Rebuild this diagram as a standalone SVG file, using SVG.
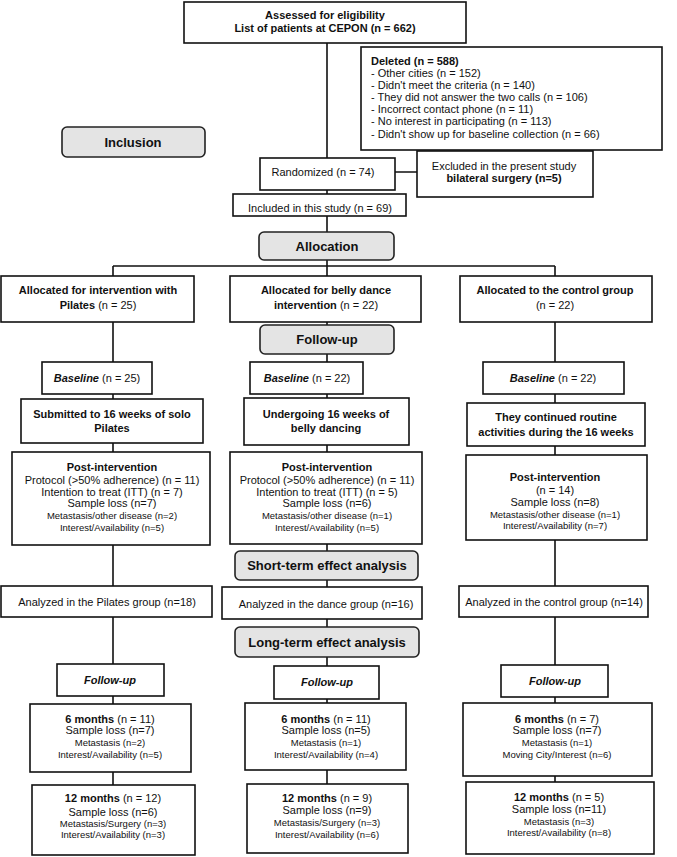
<svg xmlns="http://www.w3.org/2000/svg" width="677" height="857" viewBox="0 0 677 857">
<style>
.box{fill:#fff;stroke:#111;stroke-width:1.6}
.sec{fill:#e4e4e4;stroke:#222;stroke-width:1.6}
.t{font-family:"Liberation Sans Narrow","Liberation Sans",Arial,sans-serif;font-size:11px;fill:#111;text-anchor:middle}
.b{font-weight:bold}
.i{font-style:italic;font-weight:bold}
.s{font-size:9.5px}
.l{text-anchor:start}
.h{font-family:"Liberation Sans Narrow","Liberation Sans",Arial,sans-serif;font-size:13px;font-weight:bold;fill:#111;text-anchor:middle}
.c{fill:none;stroke:#111;stroke-width:1.6}
</style>
<rect width="677" height="857" fill="#fff"/>
<g id="connectors" class="c">
<path d="M327 43V158M395 172H417M327 190V194M327 216V232M327 260V276M113 266H555M113 266V276M555 266V276"/>
<path d="M113 322V362M113 394V399M113 443V452M113 545V586M113 617V664M113 696V704M113 772V785"/>
<path d="M327 322V325M327 354V362M327 394V398M327 445V452M327 544V551M327 580V587M327 619V627M327 657V666M327 699V703M327 770V784"/>
<path d="M555 322V362M555 394V403M555 446V455M555 540V586M555 617V665M555 697V703M555 776V782"/>
</g>
<g id="assessed"><rect class="box" x="184" y="2" width="282" height="41"/>
<text class="t b" x="325" y="19" font-size="11.5">Assessed for eligibility</text>
<text class="t b" x="325" y="32" font-size="11.5">List of patients at CEPON (n = 662)</text></g>
<g id="deleted"><rect class="box" x="361" y="47" width="301" height="103"/>
<text class="t l b" x="371" y="65">Deleted (n = 588)</text>
<text class="t l" x="371" y="77">- Other cities (n = 152)</text>
<text class="t l" x="371" y="89">- Didn't meet the criteria (n = 140)</text>
<text class="t l" x="371" y="101">- They did not answer the two calls (n = 106)</text>
<text class="t l" x="371" y="113">- Incorrect contact phone (n = 11)</text>
<text class="t l" x="371" y="125">- No interest in participating (n = 113)</text>
<text class="t l" x="371" y="138">- Didn't show up for baseline collection (n = 66)</text></g>
<g id="inclusion"><rect class="sec" x="62" y="127" width="143" height="30" rx="5"/>
<text class="h" x="133" y="147">Inclusion</text></g>
<g id="randomized"><rect class="box" x="260" y="158" width="135" height="32"/>
<text class="t" x="323" y="176">Randomized (n = 74)</text></g>
<g id="excluded"><rect class="box" x="417" y="151" width="176" height="46"/>
<text class="t" x="504" y="170">Excluded in the present study</text>
<text class="t b" x="504" y="182">bilateral surgery (n=5)</text></g>
<g id="included"><rect class="box" x="233" y="194" width="173" height="22"/>
<text class="t" x="320" y="212">Included in this study (n = 69)</text></g>
<g id="allocation"><rect class="sec" x="259" y="232" width="135" height="28" rx="5"/>
<text class="h" x="327" y="251">Allocation</text></g>
<g id="alloc-pilates"><rect class="box" x="1" y="276" width="193" height="46"/>
<text class="t b" x="98" y="294">Allocated for intervention with</text>
<text class="t" x="98" y="309"><tspan class="b">Pilates</tspan> (n = 25)</text></g>
<g id="alloc-dance"><rect class="box" x="230" y="276" width="191" height="46"/>
<text class="t b" x="326" y="294">Allocated for belly dance</text>
<text class="t" x="326" y="309"><tspan class="b">intervention</tspan> (n = 22)</text></g>
<g id="alloc-control"><rect class="box" x="460" y="276" width="192" height="46"/>
<text class="t b" x="555" y="294">Allocated to the control group</text>
<text class="t" x="555" y="309">(n = 22)</text></g>
<g id="followup1"><rect class="sec" x="260" y="325" width="134" height="29" rx="5"/>
<text class="h" x="327" y="344">Follow-up</text></g>
<g id="base-pilates"><rect class="box" x="42" y="362" width="110" height="32"/>
<text class="t" x="97" y="382"><tspan class="i">Baseline</tspan> (n = 25)</text></g>
<g id="base-dance"><rect class="box" x="250" y="362" width="113" height="32"/>
<text class="t" x="307" y="382"><tspan class="i">Baseline</tspan> (n = 22)</text></g>
<g id="base-control"><rect class="box" x="483" y="362" width="141" height="32"/>
<text class="t" x="553" y="382"><tspan class="i">Baseline</tspan> (n = 22)</text></g>
<g id="sub-pilates"><rect class="box" x="21" y="399" width="182" height="44"/>
<text class="t b" x="112" y="418">Submitted to 16 weeks of solo</text>
<text class="t b" x="112" y="432">Pilates</text></g>
<g id="sub-dance"><rect class="box" x="244" y="398" width="165" height="47"/>
<text class="t b" x="326" y="418">Undergoing 16 weeks of</text>
<text class="t b" x="326" y="432">belly dancing</text></g>
<g id="sub-control"><rect class="box" x="467" y="403" width="178" height="43"/>
<text class="t b" x="556" y="421">They continued routine</text>
<text class="t b" x="556" y="436">activities during the 16 weeks</text></g>
<g id="post-pilates"><rect class="box" x="12" y="452" width="198" height="93"/>
<text class="t b" x="112" y="471" font-size="11.5">Post-intervention</text>
<text class="t" x="112" y="484">Protocol (&gt;50% adherence) (n = 11)</text>
<text class="t" x="112" y="496">Intention to treat (ITT) (n = 7)</text>
<text class="t" x="112" y="507">Sample loss (n=7)</text>
<text class="t s" x="112" y="519">Metastasis/other disease (n=2)</text>
<text class="t s" x="112" y="531">Interest/Availability (n=5)</text></g>
<g id="post-dance"><rect class="box" x="230" y="452" width="192" height="92"/>
<text class="t b" x="327" y="471" font-size="11.5">Post-intervention</text>
<text class="t" x="327" y="484">Protocol (&gt;50% adherence) (n = 11)</text>
<text class="t" x="327" y="496">Intention to treat (ITT) (n = 5)</text>
<text class="t" x="327" y="507">Sample loss (n=6)</text>
<text class="t s" x="327" y="519">Metastasis/other disease (n=1)</text>
<text class="t s" x="327" y="531">Interest/Availability (n=5)</text></g>
<g id="post-control"><rect class="box" x="466" y="455" width="181" height="85"/>
<text class="t b" x="555" y="481" font-size="11.5">Post-intervention</text>
<text class="t" x="555" y="494">(n = 14)</text>
<text class="t" x="555" y="506">Sample loss (n=8)</text>
<text class="t s" x="555" y="518">Metastasis/other disease (n=1)</text>
<text class="t s" x="555" y="529">Interest/Availability (n=7)</text></g>
<g id="shortterm"><rect class="sec" x="235" y="551" width="183" height="29" rx="5"/>
<text class="h" x="327" y="570">Short-term effect analysis</text></g>
<g id="an-pilates"><rect class="box" x="1" y="586" width="211" height="31"/>
<text class="t" x="107" y="606">Analyzed in the Pilates group (n=18)</text></g>
<g id="an-dance"><rect class="box" x="222" y="587" width="200" height="32"/>
<text class="t" x="326" y="608">Analyzed in the dance group (n=16)</text></g>
<g id="an-control"><rect class="box" x="459" y="586" width="189" height="31"/>
<text class="t" x="554" y="606">Analyzed in the control group (n=14)</text></g>
<g id="longterm"><rect class="sec" x="235" y="627" width="184" height="30" rx="5"/>
<text class="h" x="327" y="647">Long-term effect analysis</text></g>
<g id="fu-pilates"><rect class="box" x="57" y="664" width="107" height="32"/>
<text class="t i" x="110" y="684">Follow-up</text></g>
<g id="fu-dance"><rect class="box" x="274" y="666" width="105" height="33"/>
<text class="t i" x="327" y="686">Follow-up</text></g>
<g id="fu-control"><rect class="box" x="501" y="665" width="107" height="32"/>
<text class="t i" x="555" y="685">Follow-up</text></g>
<g id="m6-pilates"><rect class="box" x="30" y="704" width="161" height="68"/>
<text class="t" x="110" y="723"><tspan class="b">6 months</tspan> (n = 11)</text>
<text class="t" x="110" y="734">Sample loss (n=7)</text>
<text class="t s" x="110" y="746">Metastasis (n=2)</text>
<text class="t s" x="110" y="758">Interest/Availability (n=5)</text></g>
<g id="m6-dance"><rect class="box" x="245" y="703" width="161" height="67"/>
<text class="t" x="326" y="723"><tspan class="b">6 months</tspan> (n = 11)</text>
<text class="t" x="326" y="734">Sample loss (n=5)</text>
<text class="t s" x="326" y="746">Metastasis (n=1)</text>
<text class="t s" x="326" y="758">Interest/Availability (n=4)</text></g>
<g id="m6-control"><rect class="box" x="463" y="703" width="189" height="73"/>
<text class="t" x="557" y="723"><tspan class="b">6 months</tspan> (n = 7)</text>
<text class="t" x="557" y="734">Sample loss (n=7)</text>
<text class="t s" x="557" y="746">Metastasis (n=1)</text>
<text class="t s" x="557" y="758">Moving City/Interest (n=6)</text></g>
<g id="m12-pilates"><rect class="box" x="32" y="785" width="163" height="70"/>
<text class="t" x="113" y="802"><tspan class="b">12 months</tspan> (n = 12)</text>
<text class="t" x="113" y="816">Sample loss (n=6)</text>
<text class="t s" x="113" y="827">Metastasis/Surgery (n=3)</text>
<text class="t s" x="113" y="838">Interest/Availability (n=3)</text></g>
<g id="m12-dance"><rect class="box" x="247" y="784" width="161" height="69"/>
<text class="t" x="327" y="802"><tspan class="b">12 months</tspan> (n = 9)</text>
<text class="t" x="327" y="814">Sample loss (n=9)</text>
<text class="t s" x="327" y="826">Metastasis/Surgery (n=3)</text>
<text class="t s" x="327" y="838">Interest/Availability (n=6)</text></g>
<g id="m12-control"><rect class="box" x="466" y="782" width="188" height="72"/>
<text class="t" x="559" y="801"><tspan class="b">12 months</tspan> (n = 5)</text>
<text class="t" x="559" y="813">Sample loss (n=11)</text>
<text class="t s" x="559" y="825">Metastasis (n=3)</text>
<text class="t s" x="559" y="836">Interest/Availability (n=8)</text></g>
</svg>
